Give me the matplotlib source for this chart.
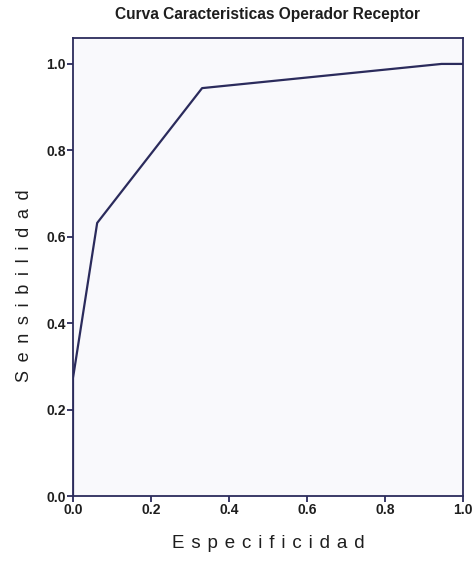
import matplotlib
matplotlib.use("Agg")
import matplotlib.pyplot as plt

# Data
x_vals = [0.0, 0.0, 0.062, 0.331, 0.945, 1.0]
y_vals = [0.0, 0.273, 0.632, 0.944, 1.0, 1.0]
ticks = [0.0, 0.2, 0.4, 0.6, 0.8, 1.0]
tick_labels = ["0.0", "0.2", "0.4", "0.6", "0.8", "1.0"]
title = "Curva Caracteristicas Operador Receptor"
xlabel = "Especificidad"
ylabel = "Sensibilidad"

plt.rcParams['font.family'] = ['Liberation Sans', 'DejaVu Sans']
navy = "#2b2b5c"
txt = "#1e1e1e"

fig = plt.figure(figsize=(4.77, 5.61), dpi=100)
fig.patch.set_facecolor("white")
ax = fig.add_axes([73/477, 65/561, 390/477, 458/561])
ax.set_facecolor("#f9f9fc")

ax.plot(x_vals, y_vals, color=navy, lw=1.6, solid_joinstyle="round")

ax.set_xlim(0, 1.0)
ax.set_ylim(0, 1.06)
ax.set_xticks(ticks)
ax.set_xticklabels(tick_labels)
ax.set_yticks(ticks)
ax.set_yticklabels(tick_labels)

for s in ax.spines.values():
    s.set_color(navy)
    s.set_linewidth(1.3)

ax.tick_params(axis="both", direction="out", length=4, width=1.3, color=navy,
               labelsize=10, pad=1)
for lab in ax.get_xticklabels() + ax.get_yticklabels():
    lab.set_fontweight("bold")
    lab.set_color(txt)

ax.set_title(title, fontsize=11.2, fontweight="bold", color=txt, pad=14)
ax.set_xlabel((" \u200a").join(xlabel), fontsize=13.5, color=txt, labelpad=13)
ax.set_ylabel((" \u2009").join(ylabel), fontsize=13, color=txt, labelpad=10,
              y=0.46)

fig.savefig("out.png", dpi=100)
